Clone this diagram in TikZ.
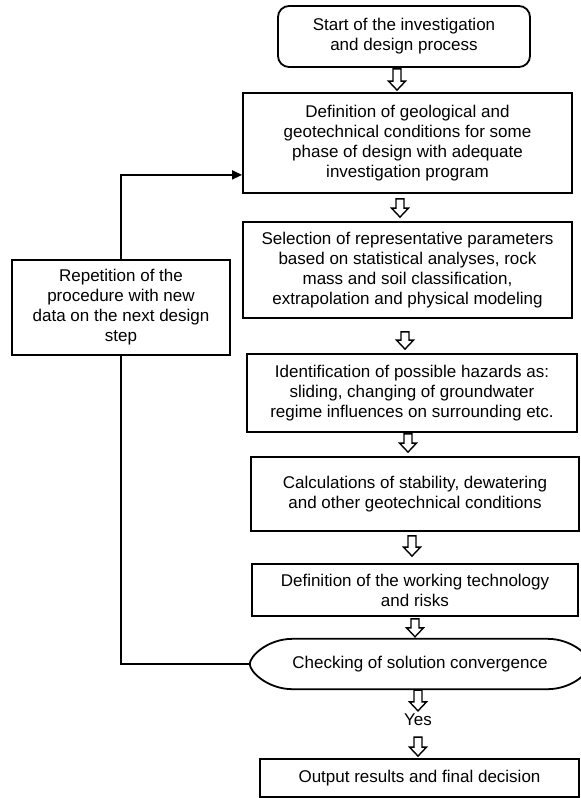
\documentclass[tikz,border=0pt]{standalone}
\usepackage{fontspec}
\setmainfont{Liberation Sans}
\usetikzlibrary{calc,arrows.meta}
\tikzset{
 box/.style={draw, line width=1.8pt, inner sep=0pt, align=center, font=\fontsize{17}{20}\selectfont},
 txt/.style={inner sep=0pt, align=center, font=\fontsize{17}{20}\selectfont},
 blk/.style={draw, line width=1.4pt, fill=white, line join=miter},
 fbline/.style={line width=1.6pt}
}
\newcommand\barrow[5]{\draw[blk] let \p1=(#2), \p2=(#3) in
 (#1pt-4pt,\y1-#4pt) -- (#1pt+4pt,\y1-#4pt) -- (#1pt+4pt,\y2+#5pt+9pt) -- (#1pt+8.5pt,\y2+#5pt+9pt) -- (#1pt,\y2+#5pt) -- (#1pt-8.5pt,\y2+#5pt+9pt) -- (#1pt-4pt,\y2+#5pt+9pt) -- cycle;}
\begin{document}
\begin{tikzpicture}[x=1pt,y=-1pt]
\useasboundingbox (0,0) rectangle (581,798);
\clip (0,0) rectangle (581,798);

\node[box, rounded corners=11pt, minimum width=252pt, minimum height=61pt] (start) at (404,36.5) {Start of the investigation\\and design process};
\node[box, minimum width=329pt, minimum height=100pt] (def) at (407.5,143) {Definition of geological and\\geotechnical conditions for some\\phase of design with adequate\\investigation program};
\node[box, minimum width=329pt, minimum height=96pt] (sel) at (407.5,270) {Selection of representative parameters\\based on statistical analyses, rock\\mass and soil classification,\\extrapolation and physical modeling};
\node[box, minimum width=330pt, minimum height=78pt] (haz) at (412,393) {Identification of possible hazards as:\\sliding, changing of groundwater\\regime influences on surrounding etc.};
\node[box, minimum width=328pt, minimum height=74pt] (calc) at (415,494) {Calculations of stability, dewatering\\and other geotechnical conditions};
\node[box, minimum width=326pt, minimum height=52pt] (work) at (415,590) {Definition of the working technology\\and risks};
\node[txt, minimum width=340pt, minimum height=50pt] (check) at (420,664) {Checking of solution convergence};
\draw[line width=1.8pt] (check.west) .. controls ($(check.west)+(0,-8)$) and ($(check.north west)+(18,0)$) .. ($(check.north west)+(43,0)$)
 -- ($(check.north east)+(-43,0)$) .. controls ($(check.north east)+(-18,0)$) and ($(check.east)+(0,-8)$) .. (check.east)
 .. controls ($(check.east)+(0,8)$) and ($(check.south east)+(-18,0)$) .. ($(check.south east)+(-43,0)$)
 -- ($(check.south west)+(43,0)$) .. controls ($(check.south west)+(18,0)$) and ($(check.west)+(0,8)$) .. cycle;
\node[txt] (yes) at (418,720) {Yes};
\node[box, minimum width=319pt, minimum height=38pt] (out) at (419.5,778) {Output results and final decision};
\node[box, minimum width=218pt, minimum height=95pt] (rep) at (121,307.5) {Repetition of the\\procedure with new\\data on the next design\\step};

\barrow{397}{start.south}{def.north}{1}{2}
\barrow{400}{def.south}{sel.north}{5}{4}
\barrow{405}{sel.south}{haz.north}{13}{4}
\barrow{408}{haz.south}{calc.north}{1}{4}
\barrow{412}{calc.south}{work.north}{4}{7}
\barrow{415}{work.south}{check.north}{2}{2}
\barrow{418}{check.south}{yes.north}{1}{3}
\barrow{418}{yes.south}{out.north}{11}{2}

\coordinate (fb) at ($(def.south west)+(0,-19)$);
\draw[fbline,-{Triangle[length=10pt,width=9pt]}] (rep.north) |- (fb);
\draw[fbline] (check.west) -| (rep.south);
\end{tikzpicture}
\end{document}
